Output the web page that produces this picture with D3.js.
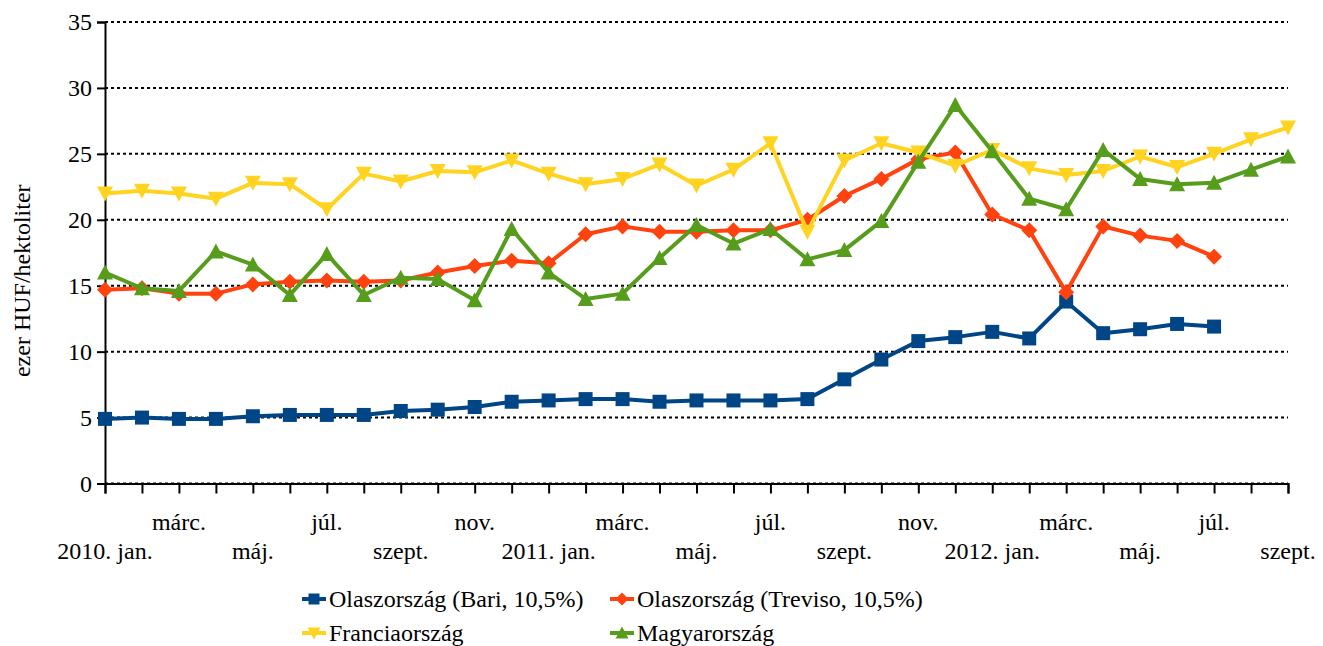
<!DOCTYPE html>
<html>
<head>
<meta charset="utf-8">
<script src="https://cdn.jsdelivr.net/npm/d3@7"></script>
<style>
  body { margin: 0; background: #fff; }
</style>
</head>
<body>
<svg id="chart" width="1323" height="646"></svg>
<script>
// months: 2010 jan .. 2012 sept
const months = d3.range(33);
const tickLabels = ["2010. jan.", "", "márc.", "", "máj.", "", "júl.", "", "szept.", "", "nov.", "",
  "2011. jan.", "", "márc.", "", "máj.", "", "júl.", "", "szept.", "", "nov.", "",
  "2012. jan.", "", "márc.", "", "máj.", "", "júl.", "", "szept."];

const bari = [4.9, 5.0, 4.9, 4.9, 5.1, 5.2, 5.2, 5.2, 5.5, 5.6, 5.8, 6.2,
  6.3, 6.4, 6.4, 6.2, 6.3, 6.3, 6.3, 6.4, 7.9, 9.4, 10.8, 11.1,
  11.5, 11.0, 13.8, 11.4, 11.7, 12.1, 11.9, null, null];
const treviso = [14.7, 14.8, 14.4, 14.4, 15.1, 15.3, 15.4, 15.3, 15.4, 16.0, 16.5, 16.9,
  16.7, 18.9, 19.5, 19.1, 19.1, 19.2, 19.2, 20.0, 21.8, 23.1, 24.6, 25.1,
  20.4, 19.2, 14.5, 19.5, 18.8, 18.4, 17.2, null, null];
const francia = [22.0, 22.2, 22.0, 21.6, 22.8, 22.7, 20.8, 23.5, 22.9, 23.7, 23.6, 24.5,
  23.5, 22.7, 23.1, 24.2, 22.6, 23.8, 25.8, 19.1, 24.5, 25.8, 25.1, 24.1,
  25.3, 23.9, 23.4, 23.7, 24.8, 24.0, 25.0, 26.1, 27.0];
const magyar = [16.0, 14.8, 14.6, 17.6, 16.6, 14.3, 17.4, 14.3, 15.6, 15.5, 13.9, 19.3,
  16.0, 14.0, 14.4, 17.1, 19.6, 18.2, 19.3, 17.0, 17.7, 19.9, 24.4, 28.7,
  25.2, 21.6, 20.8, 25.3, 23.1, 22.7, 22.8, 23.8, 24.8];

const yTicks = [0, 5, 10, 15, 20, 25, 30, 35];

const series = [
  { name: "Olaszország (Bari, 10,5%)", values: bari, color: "#004586", symbol: "square" },
  { name: "Olaszország (Treviso, 10,5%)", values: treviso, color: "#ff420e", symbol: "diamond" },
  { name: "Franciaország", values: francia, color: "#ffd320", symbol: "down" },
  { name: "Magyarország", values: magyar, color: "#579d1c", symbol: "up" }
];

const FONT = "Liberation Serif, DejaVu Serif";
const svg = d3.select('#chart');
const plotLeft = 105, plotRight = 1288, plotTop = 22, plotBottom = 483.5;

const x = d3.scaleLinear().domain([0, 32]).range([plotLeft, plotRight]);
const y = d3.scaleLinear().domain([0, 35]).range([plotBottom, plotTop]);

// dotted grid lines
svg.append('g')
  .selectAll('line')
  .data(yTicks)
  .enter()
  .append('line')
  .attr('x1', plotLeft).attr('x2', plotRight)
  .attr('y1', d => y(d)).attr('y2', d => y(d))
  .attr('stroke', '#000')
  .attr('stroke-width', 2)
  .attr('stroke-dasharray', '3,3');

// y axis
const yAxis = svg.append('g')
  .attr('transform', `translate(${plotLeft},0)`)
  .call(d3.axisLeft(y).tickValues(yTicks).tickSize(8).tickPadding(5));
yAxis.attr('font-family', null);
yAxis.select('.domain').attr('stroke-width', 2);
yAxis.selectAll('.tick line').attr('stroke-width', 2);
yAxis.selectAll('text').style('font-family', FONT).style('font-size', '24px').attr('fill', '#000');

// x axis
const xAxis = svg.append('g')
  .attr('transform', `translate(0,${plotBottom})`)
  .call(d3.axisBottom(x).tickValues(months).tickSize(10).tickFormat(''));
xAxis.select('.domain').attr('stroke-width', 2);
xAxis.selectAll('.tick line').attr('stroke-width', 2);

// staggered month labels
svg.append('g')
  .selectAll('text')
  .data(months.filter(i => tickLabels[i] !== ''))
  .enter()
  .append('text')
  .attr('x', d => x(d))
  .attr('y', d => (d % 4 === 0) ? 559 : 530)
  .attr('text-anchor', 'middle')
  .style('font-family', FONT)
  .style('font-size', '24px')
  .text(d => tickLabels[d]);

// y label
svg.append('text')
  .attr('transform', `translate(30,${(plotTop + plotBottom) / 2 + 28}) rotate(-90)`)
  .attr('text-anchor', 'middle')
  .style('font-family', FONT)
  .style('font-size', '24px')
  .text('ezer HUF/hektoliter');

function symbolPath(sym, size) {
  const s = size / 2;
  if (sym === 'square') return `M${-s},${-s}H${s}V${s}H${-s}Z`;
  if (sym === 'diamond') return `M0,${-s - 1}L${s + 1},0L0,${s + 1}L${-s - 1},0Z`;
  if (sym === 'down') return `M${-s - 1},${-s}H${s + 1}L0,${s + 1}Z`;
  return `M${-s - 1},${s}H${s + 1}L0,${-s - 1}Z`;
}

const line = d3.line()
  .defined(d => d != null)
  .x((d, i) => x(i))
  .y(d => y(d));

series.forEach(s => {
  const g = svg.append('g');
  g.append('path')
    .datum(s.values)
    .attr('fill', 'none')
    .attr('stroke', s.color)
    .attr('stroke-width', 4)
    .attr('stroke-linejoin', 'round')
    .attr('d', line);
  g.selectAll('path.m')
    .data(s.values.map((v, i) => ({ v, i })).filter(d => d.v != null))
    .enter()
    .append('path')
    .attr('class', 'm')
    .attr('transform', d => `translate(${x(d.i)},${y(d.v)})`)
    .attr('d', symbolPath(s.symbol, 14))
    .attr('fill', s.color);
});

// legend
const legendPos = [[302, 599], [610, 599], [302, 633], [610, 633]];
series.forEach((s, k) => {
  const [lx, ly] = legendPos[k];
  const g = svg.append('g').attr('transform', `translate(${lx},${ly})`);
  g.append('line').attr('x1', 0).attr('x2', 24).attr('y1', 0).attr('y2', 0)
    .attr('stroke', s.color).attr('stroke-width', 4);
  g.append('path').attr('transform', 'translate(12,0)')
    .attr('d', symbolPath(s.symbol, 11)).attr('fill', s.color);
  g.append('text').attr('x', 27).attr('y', 8)
    .style('font-family', FONT).style('font-size', '24px').text(s.name);
});
</script>
</body>
</html>
